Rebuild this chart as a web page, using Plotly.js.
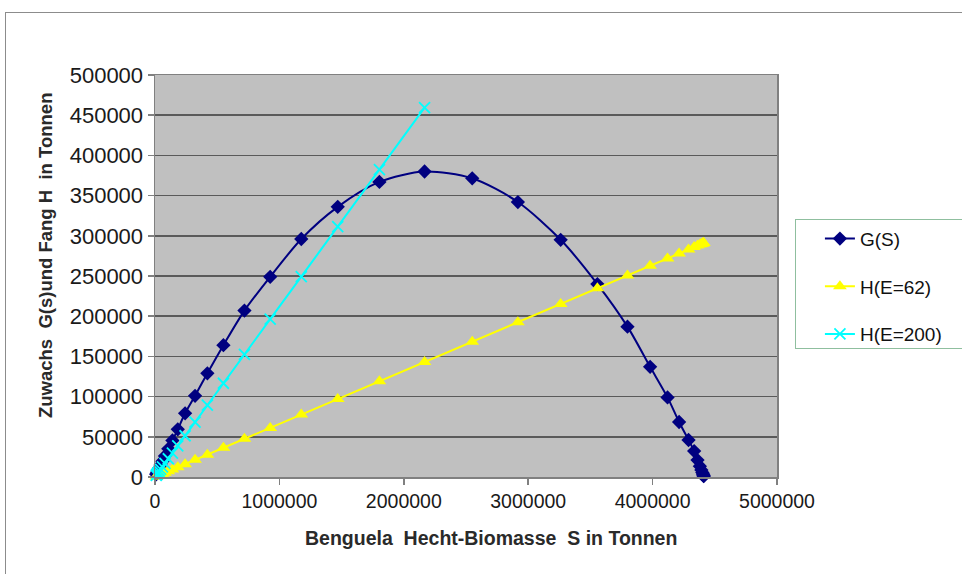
<!DOCTYPE html>
<html>
<head>
<meta charset="utf-8">
<script src="https://cdn.plot.ly/plotly-3.0.1.min.js"></script>
<style>
  html, body { margin: 0; padding: 0; background: #ffffff; }
  #wrap { position: relative; width: 962px; height: 574px; overflow: hidden; }
  #frame { position: absolute; left: 5px; top: 12px; width: 1000px; height: 620px;
           border: 1px solid #8c8c8c; box-sizing: border-box; }
  #legbox { position: absolute; left: 795px; top: 219px; width: 200px; height: 130px;
            border: 1.5px solid #8fbf9f; box-sizing: border-box; }
  #chart { position: absolute; left: 0; top: 0; width: 962px; height: 574px; }
</style>
</head>
<body>
<div id="wrap">
  <div id="frame"></div>
  <div id="legbox"></div>
  <div id="chart"></div>
</div>
<script>
// Biomass S (t) along the simulated trajectory
const biomassS = [10000, 14000, 19000, 25000, 34000, 45000, 60000, 80000, 107000, 140000,
  183000, 242000, 322000, 421000, 550000, 719000, 926000, 1176000, 1469000, 1804000,
  2167000, 2550000, 2917000, 3261000, 3556000, 3798000, 3980000, 4120000, 4213000, 4289000,
  4334000, 4361000, 4380000, 4392000, 4400000, 4405000, 4408000, 4410000, 4411000];

// Growth G(S) (t)
const growthG = [3300, 4600, 6300, 8200, 11200, 14800, 19600, 26000, 35000, 45500,
  59300, 79200, 101000, 129000, 164000, 207000, 249000, 296000, 336000, 367000,
  380000, 371500, 342000, 295000, 240000, 187000, 137000, 99000, 68400, 46000,
  32300, 21000, 13500, 8800, 5700, 3700, 2400, 1500, 1000];

// Harvest with effort E = 62 (t)
const harvestE62 = [660, 920, 1250, 1650, 2240, 2970, 3960, 5280, 7060, 9240,
  12100, 16000, 21300, 27800, 36300, 47500, 61100, 77600, 97000, 119100,
  143000, 168300, 192500, 215200, 234700, 250700, 262700, 271900, 278100, 283100,
  286000, 287800, 289100, 289900, 290400, 290700, 290900, 291100, 291100];

// Harvest with effort E = 200 (t), only up to the maximum of G
const biomassS200 = biomassS.slice(0, 21);
const harvestE200 = [2120, 2970, 4030, 5300, 7210, 9540, 12700, 17000, 22700, 29700,
  38800, 51300, 68300, 89300, 116600, 152400, 196300, 249300, 311400, 382400,
  459400];

const seriesNames = ['G(S)', 'H(E=62)', 'H(E=200)'];
const xTitle = 'Benguela\u00A0 Hecht-Biomasse\u00A0 S in Tonnen';
const yTitle = 'Zuwachs\u00A0 G(s)und Fang H\u00A0 in Tonnen';

const traces = [
  {
    x: biomassS, y: growthG, name: seriesNames[0], type: 'scatter', mode: 'lines+markers',
    line: { color: '#000080', width: 2, shape: 'spline', smoothing: 0.8 },
    marker: { symbol: 'diamond', size: 11, color: '#000080' },
    cliponaxis: false, legendgroup: 'a'
  },
  {
    x: biomassS, y: harvestE62, name: seriesNames[1], type: 'scatter', mode: 'lines+markers',
    line: { color: '#ffff00', width: 2 },
    marker: { symbol: 'triangle-up', size: 12, color: '#ffff00' },
    cliponaxis: false, legendgroup: 'b'
  },
  {
    x: biomassS200, y: harvestE200, name: seriesNames[2], type: 'scatter', mode: 'lines+markers',
    line: { color: '#00ffff', width: 2 },
    marker: { symbol: 'x-thin-open', size: 11, color: '#00ffff', line: { color: '#00ffff', width: 1.8 } },
    cliponaxis: false, legendgroup: 'c'
  }
];

const family = 'Liberation Sans, Arial, sans-serif';

const layout = {
  width: 962, height: 574,
  margin: { l: 155, r: 185, t: 75, b: 97 },
  paper_bgcolor: 'rgba(0,0,0,0)',
  plot_bgcolor: '#c0c0c0',
  showlegend: true,
  legend: {
    x: 1.069, xanchor: 'left', y: 0.64, yanchor: 'top',
    font: { family: family, size: 19, color: '#111111' },
    bgcolor: 'rgba(0,0,0,0)', borderwidth: 0,
    traceorder: 'grouped', tracegroupgap: 20
  },
  xaxis: {
    range: [0, 5000000], dtick: 1000000, tick0: 0, tickformat: 'd',
    showgrid: false, zeroline: false,
    showline: true, linecolor: '#808080', linewidth: 1.5, mirror: true,
    ticks: 'outside', ticklen: 6, tickcolor: '#808080', tickwidth: 1.5,
    tickfont: { family: family, size: 19.5, color: '#1a1a1a' }
  },
  yaxis: {
    range: [0, 500000], dtick: 50000, tick0: 0, tickformat: 'd',
    showgrid: true, gridcolor: '#5a5a5a', gridwidth: 1.5, zeroline: false,
    showline: true, linecolor: '#808080', linewidth: 1.5, mirror: true,
    ticks: 'outside', ticklen: 6, tickcolor: '#808080', tickwidth: 1.5,
    tickfont: { family: family, size: 22, color: '#1a1a1a' }
  },
  annotations: [
    {
      text: xTitle, xref: 'paper', yref: 'paper', x: 0.54, y: -0.152,
      xanchor: 'center', yanchor: 'middle', showarrow: false,
      font: { family: family, size: 19.5, color: '#2a2a2a', weight: 'bold' }
    },
    {
      text: yTitle, xref: 'paper', yref: 'paper', x: -0.177, y: 0.552, textangle: -90,
      xanchor: 'center', yanchor: 'middle', showarrow: false,
      font: { family: family, size: 18.5, color: '#2a2a2a', weight: 'bold' }
    }
  ]
};

Plotly.newPlot('chart', traces, layout, { staticPlot: true, displayModeBar: false });
</script>
</body>
</html>
